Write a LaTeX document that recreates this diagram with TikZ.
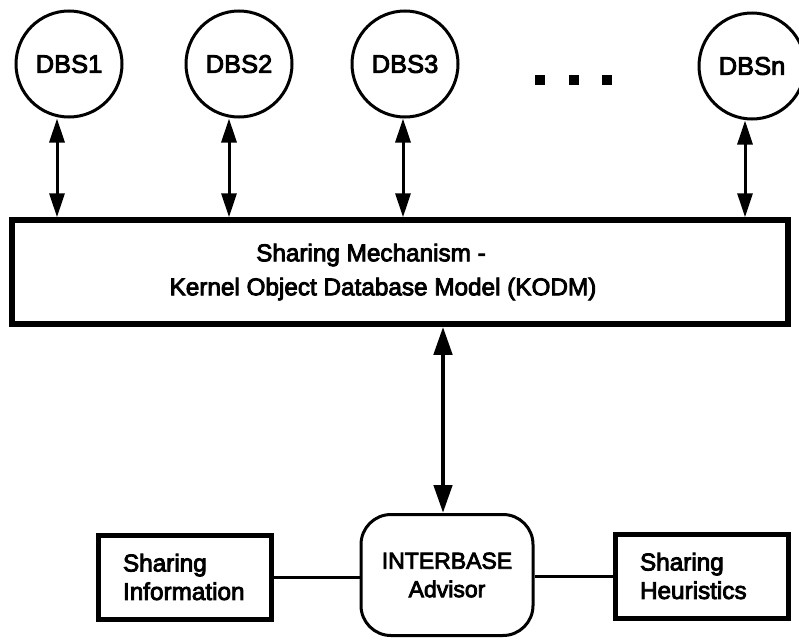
\documentclass[tikz,border=0pt]{standalone}
\usepackage{fontspec}
\setmainfont[FakeBold=3.5]{Liberation Sans}
\usetikzlibrary{arrows.meta}
\begin{document}
\begin{tikzpicture}[x=1pt,y=-1pt,
  db/.style={circle,draw,line width=3pt,minimum size=106pt,inner sep=0pt,font=\fontsize{25.5}{30}\selectfont},
  bigbox/.style={draw,line width=5.5pt,minimum width=776pt,minimum height=104pt,inner sep=0pt,font=\fontsize{24.3}{34}\selectfont,align=center},
  sidebox/.style={draw,line width=5pt,minimum width=173pt,minimum height=84pt,inner sep=0pt,font=\fontsize{24.3}{28.5}\selectfont,align=left,text width=124pt},
  advbox/.style={draw,line width=3pt,rounded corners=30pt,minimum width=172pt,minimum height=121pt,inner sep=0pt,font=\fontsize{23}{28.5}\selectfont,align=center},
  biarrow/.style={line width=3pt,{Triangle[length=24pt,width=15pt]}-{Triangle[length=24pt,width=15pt]}},
  mainarrow/.style={line width=4.5pt,{Triangle[length=28pt,width=18pt]}-{Triangle[length=28pt,width=18pt]}},
  link/.style={line width=3pt},
  dot/.style={fill,minimum size=10pt,inner sep=0pt}
]
\useasboundingbox (0,0) rectangle (799,640);
\node[db] (d1) at (69,64) {DBS1};
\node[db] (d2) at (239,64) {DBS2};
\node[db] (d3) at (405,64) {DBS3};
\node[db] (dn) at (752,66) {DBSn};
\node[dot] (p1) at (540,80) {};
\node[dot] (p2) at (574,80) {};
\node[dot] (p3) at (607,80) {};
\node[bigbox] (k) at (400,272) {Sharing Mechanism -\hspace*{58pt}\\Kernel Object Database Model (KODM)\hspace*{34pt}};
\node[advbox] (a) at (447,575) {INTERBASE\\Advisor};
\node[sidebox] (si) at (185,577) {Sharing\\Information};
\node[sidebox] (sh) at (702,576) {Sharing\\Heuristics};
\coordinate (m) at (443,0);
\draw[biarrow] (d1.south -| 57,0) -- (k.north -| 57,0);
\draw[biarrow] (d2.south -| 229,0) -- (k.north -| 229,0);
\draw[biarrow] (d3.south -| 403,0) -- (k.north -| 403,0);
\draw[biarrow] (dn.south -| 745,0) -- (k.north -| 745,0);
\draw[mainarrow] (k.south -| m) -- (a.north -| m);
\draw[link] (si.east) -- (si.east -| a.west);
\draw[link] (sh.west -| a.east) -- (sh.west);
\end{tikzpicture}
\end{document}
